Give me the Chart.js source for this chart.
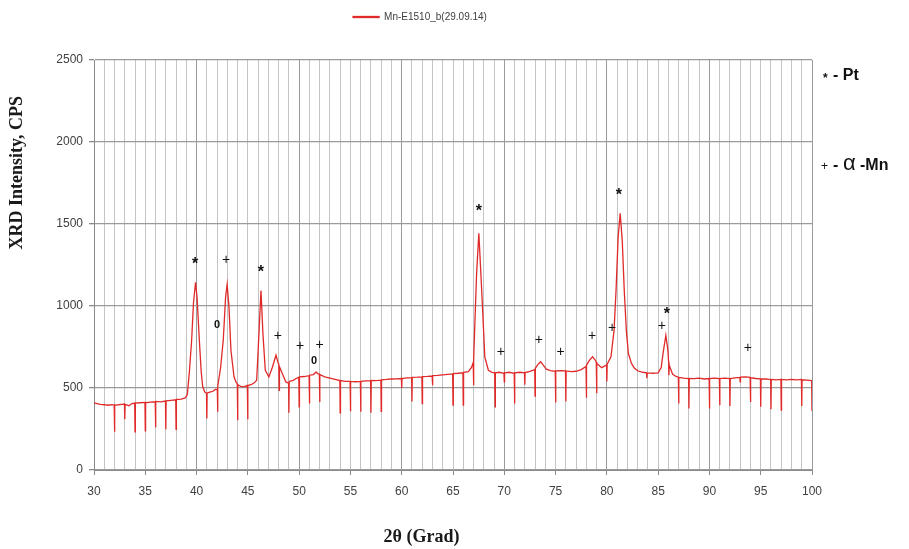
<!DOCTYPE html>
<html>
<head>
<meta charset="utf-8">
<script src="https://cdn.jsdelivr.net/npm/chart.js@4"></script>
<style>
html,body{margin:0;padding:0;background:#fff;}
#wrap{width:909px;height:549px;position:relative;}
</style>
</head>
<body>
<div id="wrap"><canvas id="c" width="909" height="549"></canvas></div>
<script>
const seriesName = 'Mn-E1510_b(29.09.14)';
const xTicks = [30,35,40,45,50,55,60,65,70,75,80,85,90,95,100];
const yTicks = [0,500,1000,1500,2000,2500];

const twoTheta = [
30.0,30.3,30.6,31.0,31.4,31.7,31.97,32.0,32.03,32.4,32.7,32.97,33.0,33.03,33.4,33.7,33.97,34.0,34.03,34.5,
34.97,35.0,35.03,35.5,35.97,36.0,36.03,36.5,36.97,37.0,37.03,37.5,37.97,38.0,38.03,38.5,38.9,39.1,39.3,39.52,
39.7,39.9,40.05,40.27,40.45,40.6,40.8,40.97,41.0,41.03,41.3,41.6,41.8,42.02,42.05,42.08,42.35,42.6,42.83,42.98,
43.16,43.35,43.65,43.85,43.97,44.0,44.03,44.3,44.6,44.95,44.98,45.01,45.3,45.6,45.86,46.08,46.28,46.47,46.7,47.05,
47.4,47.74,47.97,48.02,48.05,48.08,48.3,48.7,48.97,49.0,49.03,49.43,49.7,49.97,50.0,50.03,50.5,50.97,51.0,51.03,
51.4,51.65,51.8,51.97,52.0,52.03,52.5,53.0,53.5,53.97,54.0,54.03,54.5,54.97,55.0,55.03,55.5,55.97,56.0,56.03,
56.5,56.97,57.0,57.03,57.5,57.97,58.0,58.03,58.5,59.0,59.5,59.97,60.0,60.03,60.5,60.97,61.0,61.03,61.5,61.97,
62.0,62.03,62.5,62.97,63.0,63.03,63.5,64.0,64.5,64.97,65.0,65.03,65.5,65.97,66.0,66.03,66.5,66.8,66.97,67.0,
67.03,67.3,67.52,67.8,68.1,68.45,68.8,69.07,69.1,69.13,69.5,69.97,70.0,70.03,70.5,70.97,71.0,71.03,71.5,71.97,
72.0,72.03,72.5,72.97,73.0,73.03,73.3,73.55,73.8,74.1,74.5,74.97,75.0,75.03,75.5,75.97,76.0,76.03,76.5,77.0,
77.5,77.97,78.0,78.03,78.3,78.6,78.85,78.97,79.0,79.03,79.5,79.97,80.0,80.03,80.4,80.7,80.9,81.1,81.3,81.5,
81.7,81.9,82.1,82.4,82.7,83.0,83.5,83.87,83.9,83.93,84.5,85.0,85.3,85.5,85.75,85.95,86.02,86.05,86.08,86.4,
86.7,86.97,87.0,87.03,87.5,87.97,88.0,88.03,88.5,89.0,89.5,89.97,90.0,90.03,90.5,90.97,91.0,91.03,91.5,91.97,
92.0,92.03,92.5,92.97,93.0,93.03,93.5,93.97,94.0,94.03,94.5,94.97,95.0,95.03,95.5,95.97,96.0,96.03,96.5,96.97,
97.0,97.03,97.5,98.0,98.5,98.97,99.0,99.03,99.5,99.97,100.0
];
const cps = [
410,405,400,398,395,398,396,233,396,398,400,402,310,400,392,405,408,233,408,410,
412,239,410,414,416,260,418,415,420,248,422,425,428,248,430,432,440,460,600,791,
1020,1145,1050,791,600,507,475,468,314,470,475,480,490,495,355,510,628,791,1054,1131,
993,730,568,535,525,304,520,510,507,515,310,515,520,530,547,831,1095,831,608,568,
628,700,649,645,486,630,598,537,530,349,540,547,558,565,385,568,570,575,405,578,
582,598,588,585,415,582,568,560,552,545,349,545,540,540,358,540,538,540,355,540,
543,545,349,546,545,548,358,550,552,555,556,558,500,558,562,563,418,565,566,568,
405,570,571,573,517,575,577,580,583,586,395,588,590,593,395,595,600,625,655,517,
680,1196,1443,1095,690,608,595,592,385,592,596,590,537,592,596,590,405,592,596,592,
520,594,602,612,450,620,645,660,640,615,606,602,412,604,606,604,418,604,600,602,
612,632,440,640,668,690,672,658,468,650,624,640,540,645,690,850,1100,1420,1565,1400,
1090,850,710,650,620,605,596,592,560,592,590,592,625,720,820,730,660,578,640,585,
572,566,405,565,560,558,375,558,557,560,555,558,375,558,560,557,395,558,560,557,
390,558,562,565,537,566,568,565,415,563,558,556,385,555,555,552,370,552,550,552,
365,552,550,553,550,552,390,550,548,545,360
];

// peak phase marks
const markTheta = [39.85,42.87,42.0,46.28,47.93,50.08,52.0,51.45,67.52,69.67,73.37,75.5,78.55,80.5,81.17,85.36,85.85,93.74];
const markCps   = [1271,1277,882,1222,815,754,760,663,1594,718,791,718,815,864,1691,876,967,742];
const markSym   = ['*','+','0','*','+','+','+','0','*','+','+','+','+','+','*','+','*','+'];

const points = twoTheta.map((t,i)=>({x:t, y:cps[i]}));

const marksPlugin = {
  id:'marks',
  afterLayout(chart){
    const lg = chart.legend;
    if(lg){ lg.left += 28; lg.top -= 28; lg.bottom -= 28; }
  },
  afterDatasetsDraw(chart){
    const {ctx, scales:{x,y}, chartArea} = chart;
    ctx.save();
    ctx.fillStyle = '#111';
    ctx.textAlign = 'center';
    ctx.textBaseline = 'middle';
    markSym.forEach((s,i)=>{
      const px = x.getPixelForValue(markTheta[i]);
      const py = y.getPixelForValue(markCps[i]);
      if(s==='*'){ ctx.font = 'bold 16px "Liberation Sans", Arial'; ctx.fillText(s,px,py+3); }
      else if(s==='+'){ ctx.font = '14px "Liberation Sans", Arial'; ctx.fillText(s,px,py); }
      else { ctx.font = 'bold 11px "Liberation Sans", Arial'; ctx.fillText(s,px,py); }
    });
    // phase key on the right
    const r = chartArea.right;
    ctx.textAlign = 'left';
    ctx.font = 'bold 12px "Liberation Sans", Arial';
    ctx.fillText('*', r+11, 79);
    ctx.font = 'bold 16px "Liberation Sans", Arial';
    ctx.fillText('- Pt', r+21, 76);
    ctx.font = '12px "Liberation Sans", Arial';
    ctx.fillText('+', r+9, 167);
    ctx.font = 'bold 16px "Liberation Sans", Arial';
    ctx.fillText('-', r+21, 166);
    ctx.font = '22px "Liberation Sans", Arial';
    ctx.fillText('\u03B1', r+31, 164);
    ctx.font = 'bold 16px "Liberation Sans", Arial';
    ctx.fillText('-Mn', r+48, 166);
    ctx.restore();
  }
};

new Chart(document.getElementById('c'), {
  type:'line',
  data:{ datasets:[{
    label: seriesName,
    data: points,
    borderColor:'#e02a2a',
    backgroundColor:'#e02a2a',
    borderWidth:1.3,
    pointRadius:0,
    tension:0,
    fill:false
  }]},
  options:{
    responsive:false,
    animation:false,
    parsing:true,
    layout:{padding:{left:0,right:97,top:32,bottom:0}},
    plugins:{
      legend:{
        display:true, position:'top',
        labels:{boxWidth:26, boxHeight:1, padding:8, color:'#404040',
          font:{family:'"Liberation Sans", Arial', size:10}}
      },
      tooltip:{enabled:false}
    },
    scales:{
      x:{
        type:'linear', min:30, max:100,
        afterFit(s){ s.height = 79; },
        afterBuildTicks(s){ s.ticks = []; for(let v=30; v<=100; v++) s.ticks.push({value:v}); },
        ticks:{ autoSkip:false, maxRotation:0, padding:9, color:'#404040',
          font:{family:'"Liberation Sans", Arial', size:12},
          callback:(v)=> xTicks.includes(v) ? String(v) : '' },
        grid:{
          color:(c)=> (c.tick && c.tick.value%10===0) ? '#9a9a9a' : '#c4c4c4',
          tickColor:(c)=> (c.tick && c.tick.value%5===0) ? '#8a8a8a' : 'rgba(0,0,0,0)',
          tickLength:5, lineWidth:1
        },
        border:{color:'#8a8a8a', width:1},
        title:{ display:true, text:'2\u03B8 (Grad)' + ' '.repeat(14), color:'#1a1a1a',
          font:{family:'"Liberation Serif", "Times New Roman", serif', size:18, weight:'bold'},
          padding:{top:1, bottom:1} }
      },
      y:{
        min:0, max:2500,
        afterFit(s){ s.width = 94; },
        afterBuildTicks(s){ s.ticks = yTicks.map(v=>({value:v})); },
        ticks:{ padding:6, color:'#404040',
          font:{family:'"Liberation Sans", Arial', size:12},
          callback:(v)=> String(v) },
        grid:{ color:'#9a9a9a', tickColor:'#8a8a8a', tickLength:5, lineWidth:1.3 },
        border:{color:'#8a8a8a', width:1},
        title:{ display:true, align:'end', text:'XRD Intensity, CPS' + ' '.repeat(8), color:'#1a1a1a',
          font:{family:'"Liberation Serif", "Times New Roman", serif', size:18, weight:'bold'},
          padding:{top:7, bottom:7} }
      }
    }
  },
  plugins:[marksPlugin]
});
</script>
</body>
</html>
